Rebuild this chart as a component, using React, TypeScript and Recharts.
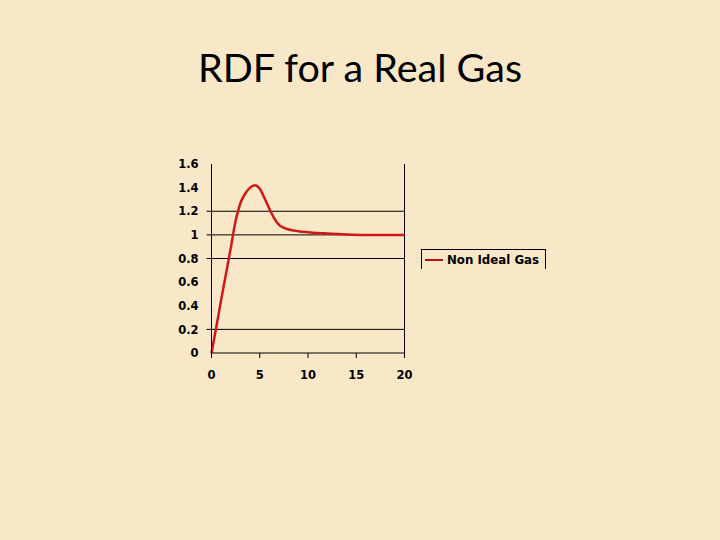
import { CartesianGrid, Legend, Line, LineChart, ReferenceLine, XAxis, YAxis } from "recharts";

// r values (x axis) and g(r) readings for the curve
const rValues = [0, 0.5, 1, 1.5, 2, 2.5, 2.75, 3, 3.25, 3.5, 4, 4.5, 5, 5.5, 6, 6.5, 7, 7.5, 8, 9, 10, 11, 12, 13, 14, 16, 18, 20];
const gValues = [0, 0.22, 0.45, 0.67, 0.89, 1.12, 1.2, 1.27, 1.315, 1.35, 1.4, 1.42, 1.39, 1.31, 1.22, 1.14, 1.085, 1.06, 1.045, 1.03, 1.022, 1.016, 1.012, 1.008, 1.004, 1.0, 1.0, 1.0];
const xTicks = [0, 5, 10, 15, 20];
const yTicks = [0, 0.2, 0.4, 0.6, 0.8, 1, 1.2, 1.4, 1.6];
const gridValues = [1.2, 1, 0.8, 0.2];
const seriesName = "Non Ideal Gas";
const title = "RDF for a Real Gas";

const data = rValues.map((r, i) => ({ r, g: gValues[i] }));

const bg = "#f9e8c8";
const red = "#d01818";
const labelFont = "'DejaVu Sans', sans-serif";

function YTick(props: any) {
	const { x, y, payload } = props;
	const v = payload.value;
	return (
		<g>
			{gridValues.includes(v) && (
				<line x1={x + 8} x2={x + 13} y1={y} y2={y} stroke="#000" />
			)}
			<text
				x={x}
				y={y}
				dy="0.36em"
				textAnchor="end"
				fontFamily={labelFont}
				fontWeight="bold"
				fontSize={11.5}
				fill="#000"
			>
				{v}
			</text>
		</g>
	);
}

function LegendBox({ payload }: any) {
	return (
		<div
			style={{
				width: 125,
				height: 20,
				borderTop: "1px solid #000",
				borderLeft: "1px solid #000",
				borderRight: "1px solid #000",
				display: "flex",
				alignItems: "center",
				fontFamily: labelFont,
				fontWeight: "bold",
				fontSize: 11.8,
				color: "#000",
				boxSizing: "border-box",
			}}
		>
			{(payload || []).map((p: any) => (
				<div key={p.value} style={{ display: "flex", alignItems: "center" }}>
					<span style={{ display: "inline-block", width: 18, height: 2, background: "#b81010", margin: "0 4px 0 3px" }} />
					<span>{p.value}</span>
				</div>
			))}
		</div>
	);
}

export default function App() {
	return (
		<div style={{ position: "absolute", left: 0, top: 0, width: 720, height: 540, background: bg, overflow: "hidden" }}>
			<div
				style={{
					position: "absolute",
					left: 0,
					top: 43,
					width: 720,
					textAlign: "center",
					fontFamily: "Lato, sans-serif",
					fontSize: 39.5,
					lineHeight: 1.2,
					color: "#000",
				}}
			>
				{title}
			</div>
			<LineChart
				width={720}
				height={540}
				data={data}
				margin={{ top: 164, right: 315.5, left: 171.5, bottom: 137 }}
			>
				<CartesianGrid horizontal={false} vertical={false} />
				{gridValues.map((v) => (
					<ReferenceLine key={v} y={v} stroke="#000" strokeWidth={1} ifOverflow="visible" />
				))}
				<ReferenceLine x={20} stroke="#000" strokeWidth={1} />
				<XAxis
					dataKey="r"
					type="number"
					domain={[0, 20]}
					ticks={xTicks}
					height={30}
					stroke="#000"
					tickSize={5}
					tickMargin={13}
					tick={{ fill: "#000", fontFamily: labelFont, fontWeight: "bold", fontSize: 11.5 }}
				/>
				<YAxis
					type="number"
					domain={[0, 1.6]}
					ticks={yTicks}
					width={40}
					stroke="#000"
					tickLine={false}
					tickSize={5}
					tickMargin={8}
					tick={<YTick />}
					interval={0}
				/>
				<Legend
					content={<LegendBox />}
					wrapperStyle={{ position: "absolute", left: 421, top: 249, width: 125 }}
				/>
				<Line
					type="monotone"
					dataKey="g"
					name={seriesName}
					stroke={red}
					strokeWidth={2.5}
					dot={false}
					isAnimationActive={false}
				/>
			</LineChart>
		</div>
	);
}
